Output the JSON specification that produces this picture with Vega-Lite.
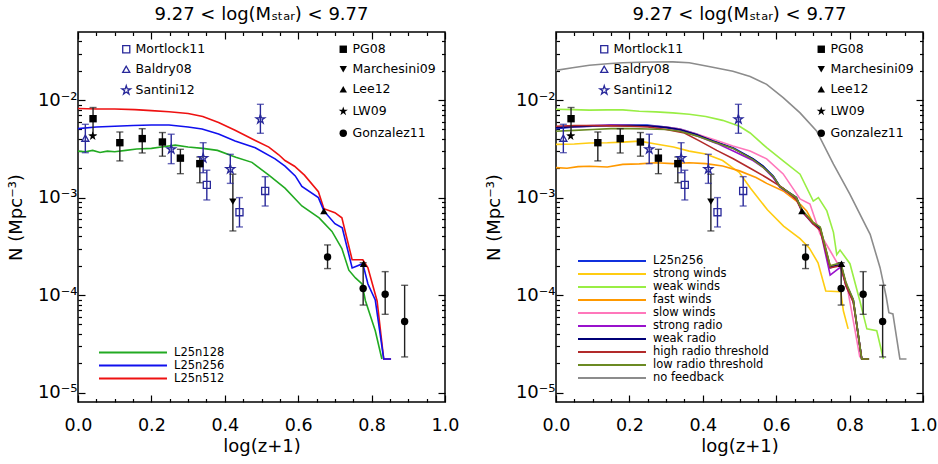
{
 "$schema": "https://vega.github.io/schema/vega-lite/v6.json",
 "padding": {"left": 6, "top": 5, "right": 5, "bottom": 5},
 "background": "white",
 "config": {
  "font": "DejaVu Sans",
  "view": {"stroke": "black", "strokeWidth": 1.5},
  "axis": {"domain": false, "grid": false, "labelFont": "DejaVu Sans", "titleFont": "DejaVu Sans", "labelColor": "black", "titleColor": "black", "tickColor": "black", "tickWidth": 1.2, "labelFlush": false, "labelOverlap": false, "titleFontWeight": "normal"},
  "legend": {"labelFont": "DejaVu Sans", "labelColor": "black", "padding": 0},
  "title": {"font": "DejaVu Sans", "fontSize": 18, "fontWeight": "normal", "color": "black"}
 },
 "datasets": {
  "sims": [
   {"model":"L25n512","x":0,"n":0.0082},{"model":"L25n512","x":0.05,"n":0.0081},{"model":"L25n512","x":0.1,"n":0.0081},{"model":"L25n512","x":0.155,"n":0.008},{"model":"L25n512","x":0.2,"n":0.0078},{"model":"L25n512","x":0.248,"n":0.0076},{"model":"L25n512","x":0.3,"n":0.0073},{"model":"L25n512","x":0.34,"n":0.0068},{"model":"L25n512","x":0.383,"n":0.0059},{"model":"L25n512","x":0.428,"n":0.0049},{"model":"L25n512","x":0.483,"n":0.00385},{"model":"L25n512","x":0.52,"n":0.0033},{"model":"L25n512","x":0.547,"n":0.00275},{"model":"L25n512","x":0.564,"n":0.0024},{"model":"L25n512","x":0.59,"n":0.0021},{"model":"L25n512","x":0.617,"n":0.0017},{"model":"L25n512","x":0.655,"n":0.00115},{"model":"L25n512","x":0.67,"n":0.00077},{"model":"L25n512","x":0.7,"n":0.0007},{"model":"L25n512","x":0.719,"n":0.00062},{"model":"L25n512","x":0.747,"n":0.00023},{"model":"L25n512","x":0.776,"n":0.00023},{"model":"L25n512","x":0.79,"n":0.00019},{"model":"L25n512","x":0.815,"n":0.000087},{"model":"L25n512","x":0.833,"n":0.0000221},{"model":"L25n512","x":0.853,"n":0.0000221},
   {"model":"L25n256","x":0,"n":0.0051},{"model":"L25n256","x":0.05,"n":0.0053},{"model":"L25n256","x":0.1,"n":0.0054},{"model":"L25n256","x":0.15,"n":0.0055},{"model":"L25n256","x":0.2,"n":0.00555},{"model":"L25n256","x":0.248,"n":0.00555},{"model":"L25n256","x":0.3,"n":0.0053},{"model":"L25n256","x":0.338,"n":0.00505},{"model":"L25n256","x":0.383,"n":0.0045},{"model":"L25n256","x":0.428,"n":0.0038},{"model":"L25n256","x":0.483,"n":0.00325},{"model":"L25n256","x":0.537,"n":0.0025},{"model":"L25n256","x":0.564,"n":0.0021},{"model":"L25n256","x":0.592,"n":0.00167},{"model":"L25n256","x":0.61,"n":0.0013},{"model":"L25n256","x":0.655,"n":0.001},{"model":"L25n256","x":0.67,"n":0.00073},{"model":"L25n256","x":0.7,"n":0.00054},{"model":"L25n256","x":0.72,"n":0.00049},{"model":"L25n256","x":0.747,"n":0.00019},{"model":"L25n256","x":0.776,"n":0.00021},{"model":"L25n256","x":0.79,"n":0.00013},{"model":"L25n256","x":0.81,"n":0.000089},{"model":"L25n256","x":0.833,"n":0.0000221},{"model":"L25n256","x":0.853,"n":0.0000221},
   {"model":"L25n128","x":0,"n":0.003},{"model":"L25n128","x":0.02,"n":0.00295},{"model":"L25n128","x":0.04,"n":0.00305},{"model":"L25n128","x":0.06,"n":0.0029},{"model":"L25n128","x":0.08,"n":0.003},{"model":"L25n128","x":0.1,"n":0.00295},{"model":"L25n128","x":0.13,"n":0.00305},{"model":"L25n128","x":0.16,"n":0.00315},{"model":"L25n128","x":0.2,"n":0.0032},{"model":"L25n128","x":0.237,"n":0.00335},{"model":"L25n128","x":0.265,"n":0.00345},{"model":"L25n128","x":0.3,"n":0.0033},{"model":"L25n128","x":0.34,"n":0.0032},{"model":"L25n128","x":0.38,"n":0.00305},{"model":"L25n128","x":0.43,"n":0.0026},{"model":"L25n128","x":0.474,"n":0.0023},{"model":"L25n128","x":0.52,"n":0.0017},{"model":"L25n128","x":0.564,"n":0.00125},{"model":"L25n128","x":0.61,"n":0.00082},{"model":"L25n128","x":0.657,"n":0.00062},{"model":"L25n128","x":0.692,"n":0.00045},{"model":"L25n128","x":0.719,"n":0.0003},{"model":"L25n128","x":0.738,"n":0.00018},{"model":"L25n128","x":0.756,"n":0.00015},{"model":"L25n128","x":0.774,"n":0.00013},{"model":"L25n128","x":0.783,"n":0.000088},{"model":"L25n128","x":0.81,"n":0.000043},{"model":"L25n128","x":0.828,"n":0.0000221},
   {"model":"strong winds","x":0,"n":0.00352},{"model":"strong winds","x":0.05,"n":0.00355},{"model":"strong winds","x":0.091,"n":0.00363},{"model":"strong winds","x":0.14,"n":0.00365},{"model":"strong winds","x":0.182,"n":0.00371},{"model":"strong winds","x":0.227,"n":0.0038},{"model":"strong winds","x":0.272,"n":0.00355},{"model":"strong winds","x":0.32,"n":0.0033},{"model":"strong winds","x":0.363,"n":0.003},{"model":"strong winds","x":0.408,"n":0.0028},{"model":"strong winds","x":0.454,"n":0.0024},{"model":"strong winds","x":0.5,"n":0.0018},{"model":"strong winds","x":0.53,"n":0.00125},{"model":"strong winds","x":0.576,"n":0.00075},{"model":"strong winds","x":0.62,"n":0.00051},{"model":"strong winds","x":0.665,"n":0.00038},{"model":"strong winds","x":0.69,"n":0.000305},{"model":"strong winds","x":0.714,"n":0.000214},{"model":"strong winds","x":0.735,"n":0.00011},{"model":"strong winds","x":0.776,"n":0.000108},{"model":"strong winds","x":0.783,"n":0.000069},{"model":"strong winds","x":0.796,"n":0.000045},
   {"model":"weak winds","x":0,"n":0.00805},{"model":"weak winds","x":0.045,"n":0.008},{"model":"weak winds","x":0.091,"n":0.0079},{"model":"weak winds","x":0.14,"n":0.00795},{"model":"weak winds","x":0.182,"n":0.00794},{"model":"weak winds","x":0.227,"n":0.0077},{"model":"weak winds","x":0.272,"n":0.00757},{"model":"weak winds","x":0.318,"n":0.0074},{"model":"weak winds","x":0.363,"n":0.00717},{"model":"weak winds","x":0.408,"n":0.0068},{"model":"weak winds","x":0.454,"n":0.0062},{"model":"weak winds","x":0.5,"n":0.0054},{"model":"weak winds","x":0.529,"n":0.0046},{"model":"weak winds","x":0.574,"n":0.00325},{"model":"weak winds","x":0.619,"n":0.00238},{"model":"weak winds","x":0.665,"n":0.00174},{"model":"weak winds","x":0.701,"n":0.00092},{"model":"weak winds","x":0.715,"n":0.001},{"model":"weak winds","x":0.738,"n":0.00073},{"model":"weak winds","x":0.756,"n":0.00044},{"model":"weak winds","x":0.765,"n":0.00026},{"model":"weak winds","x":0.774,"n":0.00029},{"model":"weak winds","x":0.801,"n":0.00021},{"model":"weak winds","x":0.828,"n":0.000087},{"model":"weak winds","x":0.847,"n":0.000045},{"model":"weak winds","x":0.874,"n":0.000043},{"model":"weak winds","x":0.892,"n":0.0000221},
   {"model":"fast winds","x":0,"n":0.00203},{"model":"fast winds","x":0.03,"n":0.002},{"model":"fast winds","x":0.06,"n":0.00208},{"model":"fast winds","x":0.091,"n":0.0021},{"model":"fast winds","x":0.14,"n":0.00206},{"model":"fast winds","x":0.182,"n":0.00219},{"model":"fast winds","x":0.227,"n":0.00222},{"model":"fast winds","x":0.272,"n":0.00228},{"model":"fast winds","x":0.318,"n":0.00223},{"model":"fast winds","x":0.363,"n":0.00228},{"model":"fast winds","x":0.408,"n":0.00223},{"model":"fast winds","x":0.454,"n":0.00211},{"model":"fast winds","x":0.5,"n":0.00188},{"model":"fast winds","x":0.545,"n":0.00161},{"model":"fast winds","x":0.574,"n":0.0014},{"model":"fast winds","x":0.619,"n":0.00117},{"model":"fast winds","x":0.665,"n":0.00086},{"model":"fast winds","x":0.683,"n":0.00073},{"model":"fast winds","x":0.7,"n":0.00056},{"model":"fast winds","x":0.72,"n":0.00049},{"model":"fast winds","x":0.747,"n":0.0002},{"model":"fast winds","x":0.776,"n":0.000205},{"model":"fast winds","x":0.79,"n":0.00013},{"model":"fast winds","x":0.81,"n":0.000088},{"model":"fast winds","x":0.833,"n":0.0000221},
   {"model":"slow winds","x":0,"n":0.00525},{"model":"slow winds","x":0.05,"n":0.00535},{"model":"slow winds","x":0.1,"n":0.0054},{"model":"slow winds","x":0.15,"n":0.0055},{"model":"slow winds","x":0.2,"n":0.0055},{"model":"slow winds","x":0.25,"n":0.00545},{"model":"slow winds","x":0.3,"n":0.0053},{"model":"slow winds","x":0.338,"n":0.00505},{"model":"slow winds","x":0.383,"n":0.0045},{"model":"slow winds","x":0.438,"n":0.00385},{"model":"slow winds","x":0.482,"n":0.00339},{"model":"slow winds","x":0.529,"n":0.003},{"model":"slow winds","x":0.574,"n":0.0025},{"model":"slow winds","x":0.619,"n":0.00175},{"model":"slow winds","x":0.665,"n":0.00097},{"model":"slow winds","x":0.692,"n":0.00086},{"model":"slow winds","x":0.719,"n":0.00043},{"model":"slow winds","x":0.747,"n":0.000285},{"model":"slow winds","x":0.774,"n":0.00019},{"model":"slow winds","x":0.792,"n":0.00013},{"model":"slow winds","x":0.828,"n":0.000023},
   {"model":"strong radio","x":0,"n":0.0053},{"model":"strong radio","x":0.05,"n":0.0054},{"model":"strong radio","x":0.1,"n":0.0055},{"model":"strong radio","x":0.15,"n":0.00555},{"model":"strong radio","x":0.2,"n":0.0055},{"model":"strong radio","x":0.25,"n":0.0054},{"model":"strong radio","x":0.3,"n":0.0052},{"model":"strong radio","x":0.338,"n":0.0049},{"model":"strong radio","x":0.383,"n":0.0043},{"model":"strong radio","x":0.438,"n":0.0036},{"model":"strong radio","x":0.483,"n":0.003},{"model":"strong radio","x":0.537,"n":0.0024},{"model":"strong radio","x":0.564,"n":0.00205},{"model":"strong radio","x":0.592,"n":0.0016},{"model":"strong radio","x":0.61,"n":0.00128},{"model":"strong radio","x":0.655,"n":0.00098},{"model":"strong radio","x":0.67,"n":0.00072},{"model":"strong radio","x":0.7,"n":0.00054},{"model":"strong radio","x":0.72,"n":0.00047},{"model":"strong radio","x":0.747,"n":0.00016},{"model":"strong radio","x":0.776,"n":0.000195},{"model":"strong radio","x":0.79,"n":0.000125},{"model":"strong radio","x":0.81,"n":0.000085},{"model":"strong radio","x":0.833,"n":0.0000221},{"model":"strong radio","x":0.853,"n":0.0000221},
   {"model":"weak radio","x":0,"n":0.0052},{"model":"weak radio","x":0.05,"n":0.00535},{"model":"weak radio","x":0.1,"n":0.00545},{"model":"weak radio","x":0.15,"n":0.0055},{"model":"weak radio","x":0.2,"n":0.0055},{"model":"weak radio","x":0.25,"n":0.00545},{"model":"weak radio","x":0.3,"n":0.00525},{"model":"weak radio","x":0.338,"n":0.005},{"model":"weak radio","x":0.383,"n":0.00445},{"model":"weak radio","x":0.428,"n":0.0038},{"model":"weak radio","x":0.483,"n":0.0032},{"model":"weak radio","x":0.537,"n":0.0025},{"model":"weak radio","x":0.564,"n":0.0021},{"model":"weak radio","x":0.592,"n":0.00165},{"model":"weak radio","x":0.61,"n":0.0013},{"model":"weak radio","x":0.655,"n":0.001},{"model":"weak radio","x":0.67,"n":0.00074},{"model":"weak radio","x":0.7,"n":0.00055},{"model":"weak radio","x":0.72,"n":0.00048},{"model":"weak radio","x":0.747,"n":0.000195},{"model":"weak radio","x":0.776,"n":0.000205},{"model":"weak radio","x":0.79,"n":0.00013},{"model":"weak radio","x":0.81,"n":0.000089},{"model":"weak radio","x":0.833,"n":0.0000221},{"model":"weak radio","x":0.853,"n":0.0000221},
   {"model":"high radio threshold","x":0,"n":0.0054},{"model":"high radio threshold","x":0.05,"n":0.0055},{"model":"high radio threshold","x":0.1,"n":0.0055},{"model":"high radio threshold","x":0.15,"n":0.00545},{"model":"high radio threshold","x":0.2,"n":0.0054},{"model":"high radio threshold","x":0.25,"n":0.0053},{"model":"high radio threshold","x":0.3,"n":0.005},{"model":"high radio threshold","x":0.35,"n":0.0046},{"model":"high radio threshold","x":0.392,"n":0.0038},{"model":"high radio threshold","x":0.438,"n":0.00305},{"model":"high radio threshold","x":0.483,"n":0.0025},{"model":"high radio threshold","x":0.529,"n":0.002},{"model":"high radio threshold","x":0.574,"n":0.0016},{"model":"high radio threshold","x":0.619,"n":0.00125},{"model":"high radio threshold","x":0.655,"n":0.00095},{"model":"high radio threshold","x":0.67,"n":0.00073},{"model":"high radio threshold","x":0.7,"n":0.00054},{"model":"high radio threshold","x":0.72,"n":0.00046},{"model":"high radio threshold","x":0.747,"n":0.00019},{"model":"high radio threshold","x":0.776,"n":0.0002},{"model":"high radio threshold","x":0.79,"n":0.000125},{"model":"high radio threshold","x":0.81,"n":0.000085},{"model":"high radio threshold","x":0.833,"n":0.0000221},{"model":"high radio threshold","x":0.853,"n":0.0000221},
   {"model":"low radio threshold","x":0,"n":0.0048},{"model":"low radio threshold","x":0.05,"n":0.0049},{"model":"low radio threshold","x":0.1,"n":0.005},{"model":"low radio threshold","x":0.15,"n":0.0051},{"model":"low radio threshold","x":0.2,"n":0.0051},{"model":"low radio threshold","x":0.25,"n":0.00505},{"model":"low radio threshold","x":0.3,"n":0.005},{"model":"low radio threshold","x":0.338,"n":0.0048},{"model":"low radio threshold","x":0.383,"n":0.0043},{"model":"low radio threshold","x":0.428,"n":0.00375},{"model":"low radio threshold","x":0.483,"n":0.0032},{"model":"low radio threshold","x":0.537,"n":0.00245},{"model":"low radio threshold","x":0.564,"n":0.00205},{"model":"low radio threshold","x":0.592,"n":0.00165},{"model":"low radio threshold","x":0.61,"n":0.0013},{"model":"low radio threshold","x":0.655,"n":0.001},{"model":"low radio threshold","x":0.67,"n":0.00075},{"model":"low radio threshold","x":0.7,"n":0.00056},{"model":"low radio threshold","x":0.72,"n":0.0005},{"model":"low radio threshold","x":0.747,"n":0.0002},{"model":"low radio threshold","x":0.776,"n":0.000215},{"model":"low radio threshold","x":0.79,"n":0.000135},{"model":"low radio threshold","x":0.81,"n":0.00009},{"model":"low radio threshold","x":0.833,"n":0.0000221},{"model":"low radio threshold","x":0.853,"n":0.0000221},
   {"model":"no feedback","x":0,"n":0.0202},{"model":"no feedback","x":0.045,"n":0.0215},{"model":"no feedback","x":0.091,"n":0.0228},{"model":"no feedback","x":0.14,"n":0.0236},{"model":"no feedback","x":0.182,"n":0.0242},{"model":"no feedback","x":0.227,"n":0.0245},{"model":"no feedback","x":0.272,"n":0.0246},{"model":"no feedback","x":0.318,"n":0.0247},{"model":"no feedback","x":0.363,"n":0.0242},{"model":"no feedback","x":0.42,"n":0.022},{"model":"no feedback","x":0.482,"n":0.0198},{"model":"no feedback","x":0.529,"n":0.0175},{"model":"no feedback","x":0.574,"n":0.0145},{"model":"no feedback","x":0.619,"n":0.0106},{"model":"no feedback","x":0.665,"n":0.0074},{"model":"no feedback","x":0.71,"n":0.00483},{"model":"no feedback","x":0.756,"n":0.0022},{"model":"no feedback","x":0.801,"n":0.00108},{"model":"no feedback","x":0.847,"n":0.00049},{"model":"no feedback","x":0.856,"n":0.00042},{"model":"no feedback","x":0.883,"n":0.000191},{"model":"no feedback","x":0.9,"n":0.000095},{"model":"no feedback","x":0.907,"n":0.000066},{"model":"no feedback","x":0.918,"n":0.000064},{"model":"no feedback","x":0.937,"n":0.0000221},{"model":"no feedback","x":0.955,"n":0.0000221}
  ],
  "obs": [
   {"survey":"PG08","kind":"filled","x":0.041,"n":0.00645,"lo":0.0044,"hi":0.0084},
   {"survey":"PG08","kind":"filled","x":0.114,"n":0.00366,"lo":0.00238,"hi":0.00471},
   {"survey":"PG08","kind":"filled","x":0.175,"n":0.00403,"lo":0.00287,"hi":0.00509},
   {"survey":"PG08","kind":"filled","x":0.23,"n":0.00372,"lo":0.00266,"hi":0.00465},
   {"survey":"PG08","kind":"filled","x":0.279,"n":0.00254,"lo":0.00176,"hi":0.00313},
   {"survey":"PG08","kind":"filled","x":0.332,"n":0.00223,"lo":0.00142,"hi":0.00261},
   {"survey":"Marchesini09","kind":"filled","x":0.422,"n":0.00091,"lo":0.000455,"hi":0.00174},
   {"survey":"Lee12","kind":"filled","x":0.67,"n":0.00073,"lo":null,"hi":null},
   {"survey":"Lee12","kind":"filled","x":0.778,"n":0.00021,"lo":null,"hi":null},
   {"survey":"LW09","kind":"filled","x":0.04,"n":0.00428,"lo":null,"hi":null},
   {"survey":"Gonzalez11","kind":"filled","x":0.68,"n":0.000246,"lo":0.000187,"hi":0.000327},
   {"survey":"Gonzalez11","kind":"filled","x":0.777,"n":0.000117,"lo":0.000079,"hi":0.000215},
   {"survey":"Gonzalez11","kind":"filled","x":0.837,"n":0.000102,"lo":0.0000635,"hi":0.000174},
   {"survey":"Gonzalez11","kind":"filled","x":0.89,"n":0.0000535,"lo":0.0000232,"hi":0.000126},
   {"survey":"Mortlock11","kind":"open","x":0.351,"n":0.00135,"lo":0.000946,"hi":0.00191},
   {"survey":"Mortlock11","kind":"open","x":0.44,"n":0.000708,"lo":0.0005,"hi":0.001},
   {"survey":"Mortlock11","kind":"open","x":0.51,"n":0.00117,"lo":0.00082,"hi":0.00164},
   {"survey":"Baldry08","kind":"open","x":0.02,"n":0.00407,"lo":0.00289,"hi":0.00565},
   {"survey":"Santini12","kind":"open","x":0.254,"n":0.00313,"lo":0.00223,"hi":0.00447},
   {"survey":"Santini12","kind":"open","x":0.341,"n":0.00254,"lo":0.0018,"hi":0.00366},
   {"survey":"Santini12","kind":"open","x":0.415,"n":0.00196,"lo":0.0014,"hi":0.00278},
   {"survey":"Santini12","kind":"open","x":0.497,"n":0.00637,"lo":0.00457,"hi":0.00906}
  ]
 },
 "spacing": 24,
 "resolve": {"scale": {"x": "independent", "y": "independent", "color": "independent", "shape": "independent", "stroke": "independent", "fill": "independent"}},
 "hconcat": [
  {
   "width": 367, "height": 370,
   "view": {"stroke": "black", "strokeWidth": 1.5},
   "title": {"text": "9.27 < log(Mₛₜₐᵣ) < 9.77", "baseline": "alphabetic", "offset": -7},
   "resolve": {"scale": {"shape": "independent"}, "axis": {"x": "independent", "y": "independent"}},
   "layer": [
    {
     "data": {"name": "sims"},
     "transform": [{"filter": {"field": "model", "oneOf": ["L25n128", "L25n256", "L25n512"]}}],
     "mark": {"type": "line", "strokeWidth": 1.6},
     "encoding": {
      "x": {"field": "x", "type": "quantitative", "scale": {"domain": [0, 1], "nice": false}, "axis": {"orient": "bottom", "values": [0, 0.2, 0.4, 0.6, 0.8, 1], "format": ".1f", "tickSize": -7, "labelPadding": 21, "labelFontSize": 17.5, "title": "log(z+1)", "titleFontSize": 18, "titlePadding": 4}},
      "y": {"field": "n", "type": "quantitative", "scale": {"type": "log", "domain": [0.000008, 0.05], "nice": false}, "axis": {"orient": "left", "values": [0.00001, 0.0001, 0.001, 0.01], "labelExpr": "datum.value < 0.00005 ? '10⁻⁵' : datum.value < 0.0005 ? '10⁻⁴' : datum.value < 0.005 ? '10⁻³' : '10⁻²'", "tickSize": -7, "labelPadding": 8, "labelFontSize": 18, "title": "N (Mpc⁻³)", "titleFontSize": 18, "titlePadding": 12}},
      "color": {"field": "model", "type": "nominal", "scale": {"domain": ["L25n128", "L25n256", "L25n512"], "range": ["#22aa22", "#1010ee", "#ee1111"]}, "legend": {"orient": "none", "legendX": 20, "legendY": 313, "title": null, "symbolType": "M-1,0H9.46", "symbolSize": 169, "symbolStrokeWidth": 2, "labelOffset": 61, "labelFontSize": 11.5, "rowPadding": 0}}
     }
    },
    {
     "data": {"name": "obs"},
     "transform": [{"filter": "isValid(datum.lo)"}],
     "mark": {"type": "rule", "strokeWidth": 1.4},
     "encoding": {
      "x": {"field": "x", "type": "quantitative", "scale": {"domain": [0, 1], "nice": false}, "axis": {"orient": "top", "values": [0, 0.2, 0.4, 0.6, 0.8, 1], "tickSize": -7, "labels": false, "title": null, "minExtent": 0, "maxExtent": 0}},
      "y": {"field": "lo", "type": "quantitative", "scale": {"type": "log", "domain": [0.000008, 0.05], "nice": false}, "axis": {"orient": "right", "values": [0.00001, 0.0001, 0.001, 0.01], "tickSize": -7, "labels": false, "title": null, "minExtent": 0, "maxExtent": 0}},
      "y2": {"field": "hi"},
      "stroke": {"field": "kind", "type": "nominal", "scale": {"domain": ["filled", "open"], "range": ["#222222", "#28289a"]}, "legend": null}
     }
    },
    {
     "data": {"name": "obs"},
     "transform": [{"filter": "isValid(datum.lo)"}],
     "mark": {"type": "tick", "orient": "horizontal", "size": 7, "thickness": 1.4},
     "encoding": {
      "x": {"field": "x", "type": "quantitative", "scale": {"domain": [0, 1], "nice": false}, "axis": null},
      "y": {"field": "hi", "type": "quantitative", "scale": {"type": "log", "domain": [0.000008, 0.05], "nice": false}, "axis": null},
      "fill": {"field": "kind", "type": "nominal", "scale": {"domain": ["filled", "open"], "range": ["#222222", "#28289a"]}, "legend": null}
     }
    },
    {
     "data": {"name": "obs"},
     "transform": [{"filter": "isValid(datum.lo)"}],
     "mark": {"type": "tick", "orient": "horizontal", "size": 7, "thickness": 1.4},
     "encoding": {
      "x": {"field": "x", "type": "quantitative", "scale": {"domain": [0, 1], "nice": false}, "axis": null},
      "y": {"field": "lo", "type": "quantitative", "scale": {"type": "log", "domain": [0.000008, 0.05], "nice": false}, "axis": null},
      "fill": {"field": "kind", "type": "nominal", "scale": {"domain": ["filled", "open"], "range": ["#222222", "#28289a"]}, "legend": null}
     }
    },
    {
     "data": {"name": "obs"},
     "transform": [{"filter": "datum.kind == 'open'"}],
     "mark": {"type": "point", "filled": false, "color": "#28289a", "strokeWidth": 1.3, "size": 50, "opacity": 1},
     "encoding": {
      "x": {"field": "x", "type": "quantitative", "scale": {"domain": [0, 1], "nice": false}, "axis": {"orient": "bottom", "values": [0.05, 0.1, 0.15, 0.25, 0.3, 0.35, 0.45, 0.5, 0.55, 0.65, 0.7, 0.75, 0.85, 0.9, 0.95], "tickSize": -3.5, "labels": false, "title": null, "minExtent": 0, "maxExtent": 0}},
      "y": {"field": "n", "type": "quantitative", "scale": {"type": "log", "domain": [0.000008, 0.05], "nice": false}, "axis": {"orient": "left", "values": [0.00002, 0.00003, 0.00004, 0.00005, 0.00006, 0.00007, 0.00008, 0.00009, 0.0002, 0.0003, 0.0004, 0.0005, 0.0006, 0.0007, 0.0008, 0.0009, 0.002, 0.003, 0.004, 0.005, 0.006, 0.007, 0.008, 0.009, 0.02, 0.03, 0.04], "tickSize": -3.5, "labels": false, "title": null, "minExtent": 0, "maxExtent": 0}},
      "shape": {"field": "survey", "type": "nominal", "scale": {"domain": ["Mortlock11", "Baldry08", "Santini12"], "range": ["square", "triangle-up", "M0,-1.3L0.293,-0.402L1.236,-0.402L0.472,0.153L0.764,1.052L0,0.497L-0.764,1.052L-0.472,0.153L-1.236,-0.402L-0.293,-0.402Z"]}, "legend": {"orient": "none", "legendX": 42, "legendY": 11, "title": null, "symbolSize": 50, "symbolStrokeWidth": 1.3, "symbolStrokeColor": "#28289a", "symbolFillColor": "transparent", "labelFontSize": 12.5, "labelOffset": 3, "rowPadding": 7}}
     }
    },
    {
     "data": {"name": "obs"},
     "transform": [{"filter": "datum.kind == 'filled'"}],
     "mark": {"type": "point", "filled": true, "color": "black", "size": 55, "opacity": 1},
     "encoding": {
      "x": {"field": "x", "type": "quantitative", "scale": {"domain": [0, 1], "nice": false}, "axis": {"orient": "top", "values": [0.05, 0.1, 0.15, 0.25, 0.3, 0.35, 0.45, 0.5, 0.55, 0.65, 0.7, 0.75, 0.85, 0.9, 0.95], "tickSize": -3.5, "labels": false, "title": null, "minExtent": 0, "maxExtent": 0}},
      "y": {"field": "n", "type": "quantitative", "scale": {"type": "log", "domain": [0.000008, 0.05], "nice": false}, "axis": {"orient": "right", "values": [0.00002, 0.00003, 0.00004, 0.00005, 0.00006, 0.00007, 0.00008, 0.00009, 0.0002, 0.0003, 0.0004, 0.0005, 0.0006, 0.0007, 0.0008, 0.0009, 0.002, 0.003, 0.004, 0.005, 0.006, 0.007, 0.008, 0.009, 0.02, 0.03, 0.04], "tickSize": -3.5, "labels": false, "title": null, "minExtent": 0, "maxExtent": 0}},
      "shape": {"field": "survey", "type": "nominal", "scale": {"domain": ["PG08", "Marchesini09", "Lee12", "LW09", "Gonzalez11"], "range": ["square", "triangle-down", "triangle-up", "M0,-1.3L0.293,-0.402L1.236,-0.402L0.472,0.153L0.764,1.052L0,0.497L-0.764,1.052L-0.472,0.153L-1.236,-0.402L-0.293,-0.402Z", "circle"]}, "legend": {"orient": "none", "legendX": 259, "legendY": 11, "title": null, "symbolSize": 55, "symbolStrokeColor": "black", "symbolFillColor": "black", "labelFontSize": 12.5, "labelOffset": 3, "rowPadding": 7}}
     }
    }
   ]
  },
  {
   "width": 367, "height": 370,
   "view": {"stroke": "black", "strokeWidth": 1.5},
   "title": {"text": "9.27 < log(Mₛₜₐᵣ) < 9.77", "baseline": "alphabetic", "offset": -7},
   "resolve": {"scale": {"shape": "independent"}, "axis": {"x": "independent", "y": "independent"}},
   "layer": [
    {
     "data": {"name": "sims"},
     "transform": [{"filter": {"field": "model", "oneOf": ["L25n256", "strong winds", "weak winds", "fast winds", "slow winds", "strong radio", "weak radio", "high radio threshold", "low radio threshold", "no feedback"]}}],
     "mark": {"type": "line", "strokeWidth": 1.6},
     "encoding": {
      "x": {"field": "x", "type": "quantitative", "scale": {"domain": [0, 1], "nice": false}, "axis": {"orient": "bottom", "values": [0, 0.2, 0.4, 0.6, 0.8, 1], "format": ".1f", "tickSize": -7, "labelPadding": 21, "labelFontSize": 17.5, "title": "log(z+1)", "titleFontSize": 18, "titlePadding": 4}},
      "y": {"field": "n", "type": "quantitative", "scale": {"type": "log", "domain": [0.000008, 0.05], "nice": false}, "axis": {"orient": "left", "values": [0.00001, 0.0001, 0.001, 0.01], "labelExpr": "datum.value < 0.00005 ? '10⁻⁵' : datum.value < 0.0005 ? '10⁻⁴' : datum.value < 0.005 ? '10⁻³' : '10⁻²'", "tickSize": -7, "labelPadding": 8, "labelFontSize": 18, "title": "N (Mpc⁻³)", "titleFontSize": 18, "titlePadding": 12}},
      "color": {"field": "model", "type": "nominal", "scale": {"domain": ["L25n256", "strong winds", "weak winds", "fast winds", "slow winds", "strong radio", "weak radio", "high radio threshold", "low radio threshold", "no feedback"], "range": ["#1030dd", "#ffcc11", "#99ee44", "#ff9900", "#ff77bb", "#9911cc", "#000077", "#b22a2a", "#6b8a23", "#8c8c8c"]}, "legend": {"orient": "none", "legendX": 21, "legendY": 221.5, "title": null, "symbolType": "M-1,0H9.46", "symbolSize": 169, "symbolStrokeWidth": 2, "labelOffset": 61, "labelFontSize": 11.5, "rowPadding": 0}}
     }
    },
    {
     "data": {"name": "obs"},
     "transform": [{"filter": "isValid(datum.lo)"}],
     "mark": {"type": "rule", "strokeWidth": 1.4},
     "encoding": {
      "x": {"field": "x", "type": "quantitative", "scale": {"domain": [0, 1], "nice": false}, "axis": {"orient": "top", "values": [0, 0.2, 0.4, 0.6, 0.8, 1], "tickSize": -7, "labels": false, "title": null, "minExtent": 0, "maxExtent": 0}},
      "y": {"field": "lo", "type": "quantitative", "scale": {"type": "log", "domain": [0.000008, 0.05], "nice": false}, "axis": {"orient": "right", "values": [0.00001, 0.0001, 0.001, 0.01], "tickSize": -7, "labels": false, "title": null, "minExtent": 0, "maxExtent": 0}},
      "y2": {"field": "hi"},
      "stroke": {"field": "kind", "type": "nominal", "scale": {"domain": ["filled", "open"], "range": ["#222222", "#28289a"]}, "legend": null}
     }
    },
    {
     "data": {"name": "obs"},
     "transform": [{"filter": "isValid(datum.lo)"}],
     "mark": {"type": "tick", "orient": "horizontal", "size": 7, "thickness": 1.4},
     "encoding": {
      "x": {"field": "x", "type": "quantitative", "scale": {"domain": [0, 1], "nice": false}, "axis": null},
      "y": {"field": "hi", "type": "quantitative", "scale": {"type": "log", "domain": [0.000008, 0.05], "nice": false}, "axis": null},
      "fill": {"field": "kind", "type": "nominal", "scale": {"domain": ["filled", "open"], "range": ["#222222", "#28289a"]}, "legend": null}
     }
    },
    {
     "data": {"name": "obs"},
     "transform": [{"filter": "isValid(datum.lo)"}],
     "mark": {"type": "tick", "orient": "horizontal", "size": 7, "thickness": 1.4},
     "encoding": {
      "x": {"field": "x", "type": "quantitative", "scale": {"domain": [0, 1], "nice": false}, "axis": null},
      "y": {"field": "lo", "type": "quantitative", "scale": {"type": "log", "domain": [0.000008, 0.05], "nice": false}, "axis": null},
      "fill": {"field": "kind", "type": "nominal", "scale": {"domain": ["filled", "open"], "range": ["#222222", "#28289a"]}, "legend": null}
     }
    },
    {
     "data": {"name": "obs"},
     "transform": [{"filter": "datum.kind == 'open'"}],
     "mark": {"type": "point", "filled": false, "color": "#28289a", "strokeWidth": 1.3, "size": 50, "opacity": 1},
     "encoding": {
      "x": {"field": "x", "type": "quantitative", "scale": {"domain": [0, 1], "nice": false}, "axis": {"orient": "bottom", "values": [0.05, 0.1, 0.15, 0.25, 0.3, 0.35, 0.45, 0.5, 0.55, 0.65, 0.7, 0.75, 0.85, 0.9, 0.95], "tickSize": -3.5, "labels": false, "title": null, "minExtent": 0, "maxExtent": 0}},
      "y": {"field": "n", "type": "quantitative", "scale": {"type": "log", "domain": [0.000008, 0.05], "nice": false}, "axis": {"orient": "left", "values": [0.00002, 0.00003, 0.00004, 0.00005, 0.00006, 0.00007, 0.00008, 0.00009, 0.0002, 0.0003, 0.0004, 0.0005, 0.0006, 0.0007, 0.0008, 0.0009, 0.002, 0.003, 0.004, 0.005, 0.006, 0.007, 0.008, 0.009, 0.02, 0.03, 0.04], "tickSize": -3.5, "labels": false, "title": null, "minExtent": 0, "maxExtent": 0}},
      "shape": {"field": "survey", "type": "nominal", "scale": {"domain": ["Mortlock11", "Baldry08", "Santini12"], "range": ["square", "triangle-up", "M0,-1.3L0.293,-0.402L1.236,-0.402L0.472,0.153L0.764,1.052L0,0.497L-0.764,1.052L-0.472,0.153L-1.236,-0.402L-0.293,-0.402Z"]}, "legend": {"orient": "none", "legendX": 42, "legendY": 11, "title": null, "symbolSize": 50, "symbolStrokeWidth": 1.3, "symbolStrokeColor": "#28289a", "symbolFillColor": "transparent", "labelFontSize": 12.5, "labelOffset": 3, "rowPadding": 7}}
     }
    },
    {
     "data": {"name": "obs"},
     "transform": [{"filter": "datum.kind == 'filled'"}],
     "mark": {"type": "point", "filled": true, "color": "black", "size": 55, "opacity": 1},
     "encoding": {
      "x": {"field": "x", "type": "quantitative", "scale": {"domain": [0, 1], "nice": false}, "axis": {"orient": "top", "values": [0.05, 0.1, 0.15, 0.25, 0.3, 0.35, 0.45, 0.5, 0.55, 0.65, 0.7, 0.75, 0.85, 0.9, 0.95], "tickSize": -3.5, "labels": false, "title": null, "minExtent": 0, "maxExtent": 0}},
      "y": {"field": "n", "type": "quantitative", "scale": {"type": "log", "domain": [0.000008, 0.05], "nice": false}, "axis": {"orient": "right", "values": [0.00002, 0.00003, 0.00004, 0.00005, 0.00006, 0.00007, 0.00008, 0.00009, 0.0002, 0.0003, 0.0004, 0.0005, 0.0006, 0.0007, 0.0008, 0.0009, 0.002, 0.003, 0.004, 0.005, 0.006, 0.007, 0.008, 0.009, 0.02, 0.03, 0.04], "tickSize": -3.5, "labels": false, "title": null, "minExtent": 0, "maxExtent": 0}},
      "shape": {"field": "survey", "type": "nominal", "scale": {"domain": ["PG08", "Marchesini09", "Lee12", "LW09", "Gonzalez11"], "range": ["square", "triangle-down", "triangle-up", "M0,-1.3L0.293,-0.402L1.236,-0.402L0.472,0.153L0.764,1.052L0,0.497L-0.764,1.052L-0.472,0.153L-1.236,-0.402L-0.293,-0.402Z", "circle"]}, "legend": {"orient": "none", "legendX": 259, "legendY": 11, "title": null, "symbolSize": 55, "symbolStrokeColor": "black", "symbolFillColor": "black", "labelFontSize": 12.5, "labelOffset": 3, "rowPadding": 7}}
     }
    }
   ]
  }
 ]
}
